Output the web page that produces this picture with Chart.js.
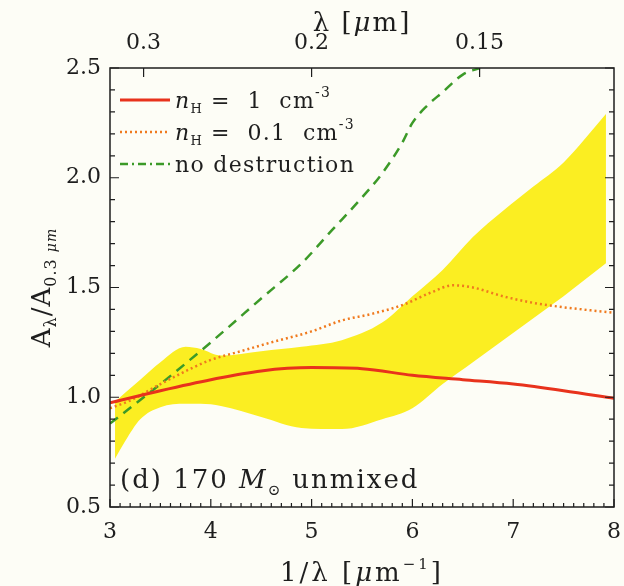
<!DOCTYPE html>
<html>
<head>
<meta charset="utf-8">
<script src="https://cdn.jsdelivr.net/npm/chart.js@4"></script>
<style>
  body { margin: 0; background: #fdfdf6; }
</style>
</head>
<body>
<canvas id="myChart" width="624" height="586"></canvas>
<script>
// values
let redX = [3, 3.5, 4, 4.5, 5, 5.5, 6, 6.5, 7, 7.5, 8]
let redY = [0.975, 1.03, 1.08, 1.12, 1.135, 1.13, 1.10, 1.08, 1.06, 1.03, 0.995]

let orangeX = [3, 3.2, 3.5, 3.8, 4, 4.3, 4.6, 5, 5.3, 5.6, 5.9, 6.2, 6.4, 6.6, 6.9, 7.2, 7.5, 8]
let orangeY = [0.95, 0.985, 1.06, 1.13, 1.17, 1.21, 1.25, 1.30, 1.35, 1.38, 1.42, 1.48, 1.51, 1.50, 1.46, 1.43, 1.41, 1.385]

let greenX = [3, 3.5, 4, 4.5, 4.9, 5.2, 5.5, 5.7, 5.9, 6.0, 6.15, 6.3, 6.5, 6.67]
let greenY = [0.88, 1.06, 1.25, 1.45, 1.61, 1.76, 1.91, 2.02, 2.16, 2.25, 2.33, 2.39, 2.47, 2.5]

let bandX = [3.05, 3.15, 3.3, 3.5, 3.75, 3.9, 4.1, 4.5, 4.9, 5.3, 5.7, 6.0, 6.3, 6.6, 6.9, 7.2, 7.5, 7.92]
let bandLow = [0.72, 0.80, 0.90, 0.955, 0.97, 0.97, 0.96, 0.91, 0.86, 0.855, 0.90, 0.95, 1.06, 1.16, 1.26, 1.36, 1.46, 1.61]
let bandHigh = [0.98, 1.02, 1.08, 1.16, 1.23, 1.22, 1.19, 1.21, 1.23, 1.26, 1.34, 1.46, 1.58, 1.73, 1.85, 1.96, 2.07, 2.29]

let xTicks = [3, 4, 5, 6, 7, 8]
let yTicks = [0.5, 1.0, 1.5, 2.0, 2.5]
let topWavelengths = [0.3, 0.2, 0.15]
let topTickLabels = ['0.3', '0.2', '0.15']

function pts(xs, ys) {
  let out = []
  for (let i = 0; i < xs.length; i++) out.push({x: xs[i], y: ys[i]})
  return out
}

const SERIF = '"DejaVu Serif", serif'
const INK = '#1e1e1e'

// draws a run of text pieces (for sub/superscripts), x is the centre or left edge
function drawRich(ctx, x, y, parts, align, spacing) {
  ctx.letterSpacing = (spacing || 0) + 'px'
  let w = 0
  for (let p of parts) { ctx.font = p.f; w += ctx.measureText(p.t).width + (p.gap || 0) }
  let cx = align === 'center' ? x - w / 2 : x
  ctx.textAlign = 'left'
  ctx.textBaseline = 'alphabetic'
  for (let p of parts) {
    ctx.font = p.f
    ctx.fillText(p.t, cx, y + (p.dy || 0))
    cx += ctx.measureText(p.t).width + (p.gap || 0)
  }
  ctx.letterSpacing = '0px'
}

const framePlugin = {
  id: 'frame',
  beforeDraw(chart) {
    let ctx = chart.ctx
    ctx.save()
    ctx.fillStyle = '#fdfdf6'
    ctx.fillRect(0, 0, chart.width, chart.height)
    ctx.restore()
  },
  afterDraw(chart) {
    let ctx = chart.ctx
    let a = chart.chartArea
    let xs = chart.scales.x, ys = chart.scales.y, xt = chart.scales.xTop
    ctx.save()
    ctx.strokeStyle = INK
    ctx.lineWidth = 1.5
    ctx.strokeRect(a.left, a.top, a.right - a.left, a.bottom - a.top)

    ctx.lineWidth = 1.2
    ctx.beginPath()
    // bottom ticks every 0.1
    for (let i = 0; i <= 50; i++) {
      let v = 3 + i * 0.1
      let px = xs.getPixelForValue(v)
      let len = i % 10 === 0 ? 8 : 4
      ctx.moveTo(px, a.bottom); ctx.lineTo(px, a.bottom - len)
    }
    // left and right ticks every 0.1
    for (let i = 0; i <= 20; i++) {
      let v = 0.5 + i * 0.1
      let py = ys.getPixelForValue(v)
      let len = i % 5 === 0 ? 9 : 5
      ctx.moveTo(a.left, py); ctx.lineTo(a.left + len, py)
      ctx.moveTo(a.right, py); ctx.lineTo(a.right - len, py)
    }
    // top wavelength ticks
    for (let w of topWavelengths) {
      let px = xt.getPixelForValue(1 / w)
      ctx.moveTo(px, a.top); ctx.lineTo(px, a.top + 9)
    }
    ctx.stroke()

    ctx.fillStyle = INK
    // legend
    let legend = [
      {color: '#e8321c', dash: [], width: 3, y: 100, parts: [
        {t: 'n', f: 'italic 22px ' + SERIF}, {t: 'H', f: '13px ' + SERIF, dy: 5, gap: 8},
        {t: '=  1  cm', f: '22px ' + SERIF}, {t: '-3', f: '14px ' + SERIF, dy: -11}]},
      {color: '#f07a1e', dash: [2, 3], width: 2.5, y: 132, parts: [
        {t: 'n', f: 'italic 22px ' + SERIF}, {t: 'H', f: '13px ' + SERIF, dy: 5, gap: 8},
        {t: '=  0.1  cm', f: '22px ' + SERIF}, {t: '-3', f: '14px ' + SERIF, dy: -11}]},
      {color: '#3c9a28', dash: [8, 4, 2, 4], width: 2.5, y: 164, parts: [
        {t: 'no destruction', f: '22px ' + SERIF}]}
    ]
    for (let item of legend) {
      ctx.save()
      ctx.strokeStyle = item.color
      ctx.lineWidth = item.width
      ctx.setLineDash(item.dash)
      ctx.beginPath()
      ctx.moveTo(a.left + 10, item.y); ctx.lineTo(a.left + 60, item.y)
      ctx.stroke()
      ctx.restore()
      drawRich(ctx, a.left + 65, item.y + 8, item.parts, 'left', 1.3)
    }

    // panel label
    drawRich(ctx, a.left + 10, 488, [
      {t: '(d) 170 ', f: '26px ' + SERIF},
      {t: 'M', f: 'italic 26px ' + SERIF},
      {t: '\u2299', f: '15px ' + SERIF, dy: 7, gap: 10},
      {t: 'unmixed', f: '26px ' + SERIF}
    ], 'left', 2)

    // axis titles
    let mid = (a.left + a.right) / 2
    drawRich(ctx, mid, 581, [
      {t: '1/\u03bb [', f: '26px ' + SERIF},
      {t: '\u03bc', f: 'italic 26px ' + SERIF},
      {t: 'm', f: '26px ' + SERIF},
      {t: '\u22121', f: '15px ' + SERIF, dy: -12},
      {t: ']', f: '26px ' + SERIF}
    ], 'center', 3)
    drawRich(ctx, mid, 31, [
      {t: '\u03bb [', f: '26px ' + SERIF},
      {t: '\u03bc', f: 'italic 26px ' + SERIF},
      {t: 'm]', f: '26px ' + SERIF}
    ], 'center', 2)

    ctx.save()
    ctx.translate(50, (a.top + a.bottom) / 2)
    ctx.rotate(-Math.PI / 2)
    drawRich(ctx, 0, 0, [
      {t: 'A', f: '26px ' + SERIF},
      {t: '\u03bb', f: '16px ' + SERIF, dy: 6},
      {t: '/A', f: '26px ' + SERIF},
      {t: '0.3 ', f: '16px ' + SERIF, dy: 6},
      {t: '\u03bcm', f: 'italic 14px ' + SERIF, dy: 6}
    ], 'center', 1)
    ctx.restore()
    ctx.restore()
  }
}

// keep the plot frame where the original has it
function fixX(height) {
  return s => { s.height = height; s.paddingRight = 10; s.paddingLeft = 0 }
}

let ctx = document.getElementById('myChart').getContext('2d')
let myChart = new Chart(ctx, {
  type: 'line',
  data: {
    datasets: [
      {
        label: 'band low',
        data: pts(bandX, bandLow),
        borderWidth: 0,
        pointRadius: 0,
        fill: false,
        order: 5,
        cubicInterpolationMode: 'monotone'
      },
      {
        label: 'band high',
        data: pts(bandX, bandHigh),
        borderWidth: 0,
        pointRadius: 0,
        backgroundColor: '#fbee22',
        fill: '-1',
        order: 4,
        cubicInterpolationMode: 'monotone'
      },
      {
        label: 'no destruction',
        data: pts(greenX, greenY),
        borderColor: '#3c9a28',
        borderWidth: 2.5,
        borderDash: [10, 7],
        pointRadius: 0,
        fill: false,
        order: 2,
        cubicInterpolationMode: 'monotone'
      },
      {
        label: 'nH = 0.1',
        data: pts(orangeX, orangeY),
        borderColor: '#f07a1e',
        borderWidth: 2.5,
        borderDash: [2, 3],
        pointRadius: 0,
        fill: false,
        order: 1,
        cubicInterpolationMode: 'monotone'
      },
      {
        label: 'nH = 1',
        data: pts(redX, redY),
        borderColor: '#e8321c',
        borderWidth: 3,
        pointRadius: 0,
        fill: false,
        order: 0,
        cubicInterpolationMode: 'monotone'
      }
    ]
  },
  options: {
    responsive: false,
    animation: false,
    layout: { padding: 0 },
    plugins: { legend: { display: false }, tooltip: { enabled: false } },
    scales: {
      x: {
        type: 'linear', position: 'bottom', min: 3, max: 8,
        grid: { display: false, drawTicks: false },
        border: { display: false },
        afterBuildTicks: s => { s.ticks = xTicks.map(v => ({value: v})) },
        ticks: { color: INK, font: { family: SERIF, size: 22 }, padding: 12, maxRotation: 0,
                 callback: v => String(v) },
        afterFit: fixX(79)
      },
      xTop: {
        type: 'linear', position: 'top', min: 3, max: 8,
        grid: { display: false, drawTicks: false },
        border: { display: false },
        afterBuildTicks: s => { s.ticks = topWavelengths.map(w => ({value: 1 / w})) },
        ticks: { color: INK, font: { family: SERIF, size: 22 }, padding: 12, maxRotation: 0,
                 callback: (v, i) => topTickLabels[i] },
        afterFit: fixX(68)
      },
      y: {
        type: 'linear', min: 0.5, max: 2.5,
        grid: { display: false, drawTicks: false },
        border: { display: false },
        afterBuildTicks: s => { s.ticks = yTicks.map(v => ({value: v})) },
        ticks: { color: INK, font: { family: SERIF, size: 22 }, padding: 9,
                 callback: v => v.toFixed(1) },
        afterFit: s => { s.width = 110; s.paddingTop = 0; s.paddingBottom = 0 }
      }
    }
  },
  plugins: [framePlugin]
})
</script>
</body>
</html>
